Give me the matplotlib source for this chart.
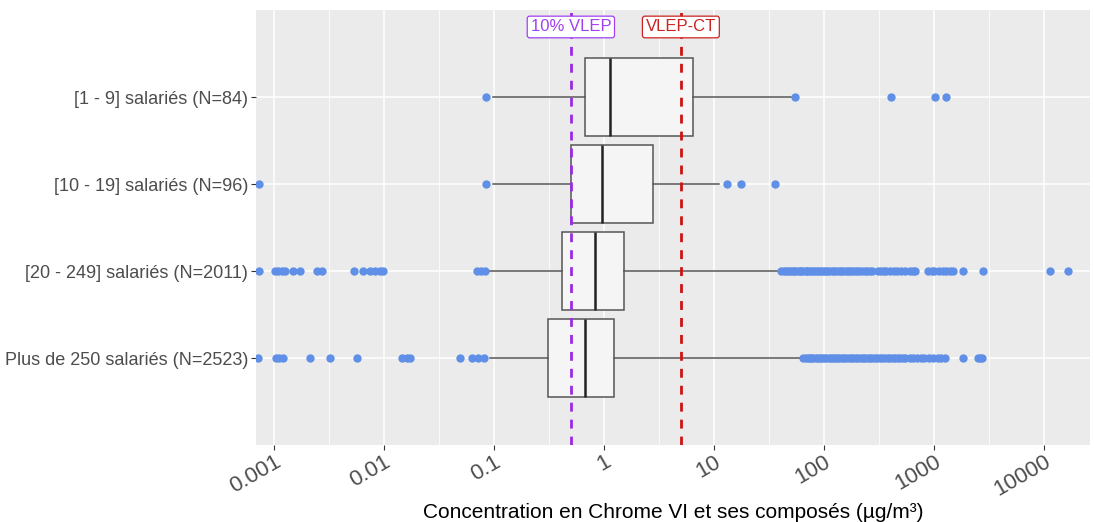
#!/usr/bin/env python3
import matplotlib

matplotlib.use("Agg")
import matplotlib.pyplot as plt
import matplotlib.transforms as mtransforms
import numpy as np

# categories, top to bottom
categories = [
    "[1 - 9] salariés (N=84)",
    "[10 - 19] salariés (N=96)",
    "[20 - 249] salariés (N=2011)",
    "Plus de 250 salariés (N=2523)",
]

# box statistics (µg/m³)
whis_lo = [0.098, 0.098, 0.088, 0.092]
q1 = [0.67, 0.50, 0.415, 0.31]
median = [1.13, 0.96, 0.83, 0.67]
q3 = [6.4, 2.79, 1.52, 1.23]
whis_hi = [50.0, 11.1, 39.8, 64.4]

outliers_1_9 = [0.0845, 55, 406, 1020, 1285]
outliers_10_19 = [0.00073, 0.0845, 13.1, 17.6, 35.9]
outliers_20_249 = [
    0.00073, 0.00102, 0.00109, 0.00118, 0.00126, 0.00149, 0.00172,
    0.00246, 0.00273, 0.00533, 0.00644, 0.00746, 0.00828, 0.0092, 0.0098,
    0.070, 0.076, 0.083,
    41, 43, 45, 47, 49, 51, 53, 55, 58, 60, 62, 65, 68, 70, 73, 76, 80,
    83, 87, 90, 94, 98, 102, 107, 112, 118, 124, 130, 136, 143, 150, 158,
    165, 172, 180, 190, 200, 210, 222, 235, 248, 262, 275,
    310, 330, 350, 370, 400, 430, 460, 500, 540, 600, 640, 675,
    880, 950, 1000, 1100, 1200, 1300, 1400, 1490,
    1830, 2790, 11350, 16500,
]
outliers_250 = [
    0.00071, 0.00105, 0.00112, 0.0012, 0.00212, 0.00323, 0.00569,
    0.0146, 0.0162, 0.0172, 0.049, 0.063, 0.072, 0.081,
    65, 68, 71, 74, 77, 80, 84, 88, 92, 96, 100, 105, 110, 115, 120, 126,
    132, 138, 145, 152, 160, 168, 176, 185, 195, 205, 215, 226, 238, 250,
    262, 275, 290, 305, 320, 340, 360, 380, 400, 420, 445, 470, 495, 520,
    545, 600, 650, 700, 760, 820, 900, 980, 1090, 1150, 1260, 1830,
    2500, 2600, 2730,
]
outliers = [outliers_1_9, outliers_10_19, outliers_20_249, outliers_250]

# reference limits
vlep_10pct = 0.5
vlep_ct = 5.0

x_ticks = [0.001, 0.01, 0.1, 1, 10, 100, 1000, 10000]
x_ticklabels = ["0.001", "0.01", "0.1", "1", "10", "100", "1000", "10000"]
x_minor = [10 ** (k + 0.5) for k in range(-4, 5)]

plt.rcParams["font.family"] = ["Liberation Sans", "DejaVu Sans"]


def main():
    fig = plt.figure(figsize=(10.94, 5.22), dpi=100)
    ax = fig.add_axes([0.234, 0.1475, 0.7623, 0.8333])
    ax.set_facecolor("#EBEBEB")
    for spine in ax.spines.values():
        spine.set_visible(False)

    n = len(categories)
    positions = [n - i for i in range(n)]

    stats = []
    for i in range(n):
        stats.append(
            dict(
                med=median[i],
                q1=q1[i],
                q3=q3[i],
                whislo=whis_lo[i],
                whishi=whis_hi[i],
                fliers=outliers[i],
            )
        )

    ax.bxp(
        stats,
        positions=positions,
        vert=False,
        widths=0.9,
        patch_artist=True,
        showcaps=False,
        boxprops=dict(facecolor="#F5F5F5", edgecolor="#555555", linewidth=1.1),
        whiskerprops=dict(color="#555555", linewidth=1.1),
        medianprops=dict(color="#222222", linewidth=1.8),
        flierprops=dict(
            marker="o",
            markerfacecolor="#5F8FE6",
            markeredgecolor="#5F8FE6",
            markersize=5,
        ),
        zorder=3,
    )

    ax.set_xscale("log")
    ax.set_xticks(x_ticks)
    ax.set_xticklabels(x_ticklabels)
    ax.set_xticks(x_minor, minor=True)
    ax.tick_params(axis="x", which="minor", length=0)
    ax.set_yticks(positions)
    ax.set_yticklabels(categories)
    # limits after the ticks, set_xticks widens the view otherwise
    ax.set_xlim(0.000686, 26200)
    ax.set_ylim(0, 5.0)

    ax.grid(True, which="major", color="white", linewidth=1.1, zorder=0)
    ax.grid(True, which="minor", axis="x", color="white", linewidth=0.55, zorder=0)
    ax.set_axisbelow(True)

    ax.tick_params(axis="both", which="major", length=3.5, color="#333333",
                   labelcolor="#4D4D4D")
    ax.tick_params(axis="y", labelsize=13, pad=2)
    ax.tick_params(axis="x", labelsize=16, pad=1)
    for lab in ax.get_xticklabels():
        lab.set_rotation(30)
        lab.set_ha("right")
        lab.set_rotation_mode("anchor")

    ax.set_xlabel("Concentration en Chrome VI et ses composés (µg/m³)",
                  fontsize=15, labelpad=2)

    # reference lines
    ax.axvline(vlep_10pct, color="#9A2BE2", linewidth=2, linestyle=(0, (3.2, 2.9)),
               zorder=5)
    ax.axvline(vlep_ct, color="#CC1414", linewidth=2, linestyle=(0, (3.2, 2.9)),
               zorder=5)

    trans = mtransforms.blended_transform_factory(ax.transData, ax.transAxes)
    ax.text(vlep_10pct, 0.961, "10% VLEP", transform=trans, ha="center",
            va="center", fontsize=12, color="#A040F0", zorder=6,
            bbox=dict(boxstyle="round,pad=0.2,rounding_size=0.15", fc="white",
                      ec="#A040F0", lw=0.9))
    ax.text(vlep_ct, 0.961, "VLEP-CT", transform=trans, ha="center",
            va="center", fontsize=12, color="#CC2222", zorder=6,
            bbox=dict(boxstyle="round,pad=0.2,rounding_size=0.15", fc="white",
                      ec="#CC2222", lw=0.9))

    fig.savefig("out.png", dpi=100)


if __name__ == "__main__":
    main()
